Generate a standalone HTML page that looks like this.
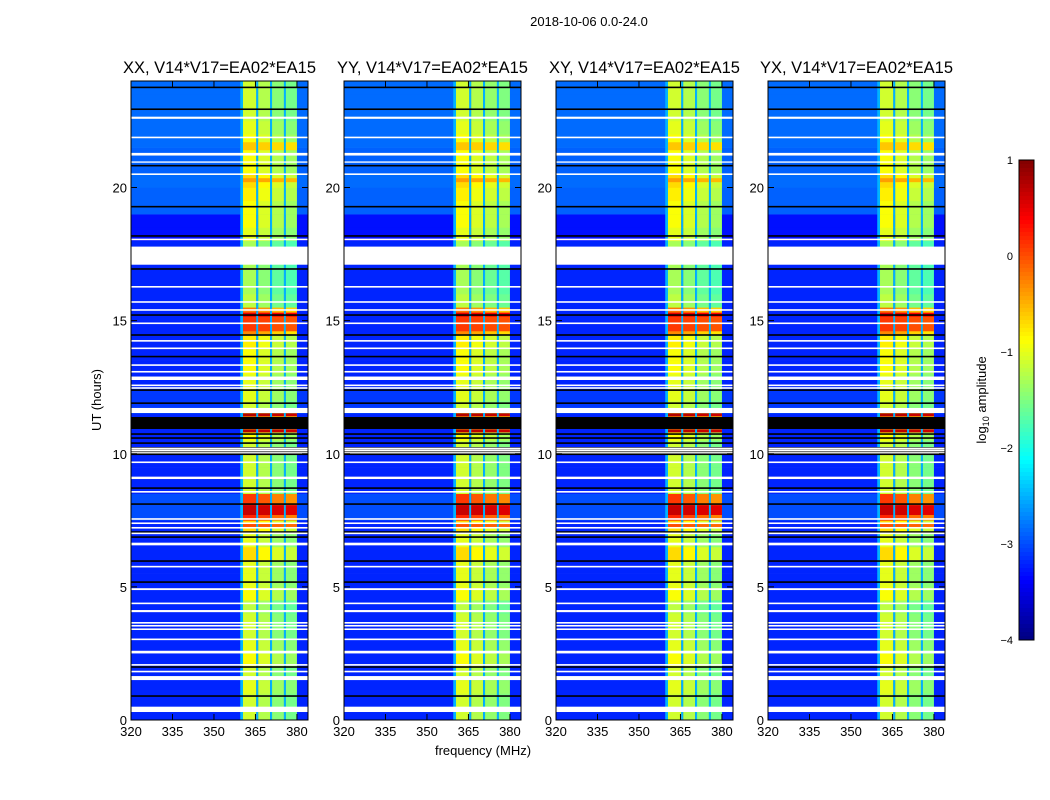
<!DOCTYPE html>
<html><head><meta charset="utf-8"><style>
body{margin:0;background:#fff;}
svg{display:block;font-family:"Liberation Sans",sans-serif;}
</style></head><body>
<svg id="fig" width="1050" height="800" viewBox="0 0 1050 800">
<text x="589" y="26" font-size="13" text-anchor="middle">2018-10-06 0.0-24.0</text>
<text x="483" y="755" font-size="13" text-anchor="middle">frequency (MHz)</text>
<text transform="translate(101,400) rotate(-90)" font-size="13" text-anchor="middle">UT (hours)</text>
<g id="panels"></g>
<g id="cbar"></g>
</svg>
<script>
const titles=["XX, V14*V17=EA02*EA15","YY, V14*V17=EA02*EA15","XY, V14*V17=EA02*EA15","YX, V14*V17=EA02*EA15"];
const panelLeft=[131,344,556,768];
const xTicks=[320,335,350,365,380];
const yTicks=[0,5,10,15,20];
const cbTicks=[1,0,-1,-2,-3,-4];
const subbands=[[360.5,365.3],[366,370.3],[371,375.3],[376,380]];
const dividerLevel=-2.5;
const bandLevel=[-1.1,-1.1,-1.0,-1.1,-0.9,-1.0,-1.1,-1.1,-1.2,-0.9,-1.0,-1.0,-0.7,-1.0,-0.7,0.2,0.1,-1.1,-1.1,-1.1,-1.1,-0.9,-0.5,-1.1,-1.0,-1.0,-0.9,-0.9,-0.8,-0.3,-0.2,-1.2,-1.3,-1.3,-1.3,-1.3,-1.0,-0.9,-0.9,-0.8,-0.7,-0.9,-0.9,-0.9,-1.0,-1.1,-1.1,-1.1];
const bgLevel=[-3.2,-3.2,-3.2,-3.2,-3.2,-3.2,-3.2,-3.2,-3.2,-3.2,-3.2,-3.2,-3.2,-3.2,-3.2,-3.0,-3.0,-3.2,-3.2,-3.2,-3.2,-3.2,-3.2,-3.1,-3.1,-3.2,-3.2,-3.2,-3.2,-3.2,-3.2,-3.2,-3.2,-3.2,-3.2,-3.2,-3.3,-3.3,-2.9,-2.9,-2.85,-2.9,-2.9,-2.85,-2.85,-2.85,-2.85,-2.85];
const subOffsets=[[0,-0.15,-0.35,-0.45],[0,-0.15,-0.3,-0.4],[0,-0.15,-0.35,-0.45],[0,-0.15,-0.35,-0.45]];
const hotRows=[[7.7,8.07,0.65],[7.2,7.4,0.0],[11.4,11.52,0.75],[10.8,10.92,0.75],[14.6,15.2,0.1],[15.15,15.3,0.5],[20.2,20.35,-0.4],[21.4,21.7,-0.6]];
const whiteGaps=[[22.58,22.66],[21.85,21.91],[21.2,21.3],[20.93,20.98],[20.47,20.53],[18.02,18.08],[17.1,17.78],[16.24,16.3],[15.67,15.73],[15.37,15.43],[14.87,14.93],[14.21,14.27],[13.93,13.99],[13.3,13.36],[13.05,13.11],[12.77,12.9],[12.54,12.6],[12.44,12.5],[11.53,11.72],[10.17,10.23],[10.09,10.15],[9.65,9.71],[9.05,9.14],[8.54,8.6],[7.52,7.58],[7.36,7.42],[7.19,7.25],[6.98,7.04],[6.56,6.66],[5.73,5.79],[4.88,4.95],[4.35,4.41],[4.05,4.13],[3.62,3.68],[3.51,3.57],[3.38,3.44],[3.0,3.06],[2.5,2.6],[2.04,2.1],[1.79,1.85],[1.5,1.65],[0.3,0.5]];
const blackRows=[[23.73,23.79],[22.91,22.97],[20.79,20.85],[19.25,19.31],[18.15,18.21],[16.91,16.97],[15.18,15.24],[14.43,14.49],[13.62,13.68],[12.36,12.42],[11.87,11.93],[10.93,11.38],[10.71,10.77],[10.56,10.62],[10.37,10.43],[9.95,10.25],[8.68,8.74],[8.08,8.14],[7.03,7.09],[6.84,6.9],[5.94,6.0],[5.15,5.21],[1.96,2.02],[0.87,0.93]];
const whiteInBlack=[[10.1,10.14],[10.18,10.21],[10.03,10.06]];

const NS="http://www.w3.org/2000/svg";
const fig=document.getElementById('panels');
const yTop=81,yBot=720,W=177;
function ys(h){return yBot-(yBot-yTop)*h/24;}
function jet(v){let t=Math.max(0,Math.min(1,(v+4)/5));const c=x=>Math.round(255*Math.max(0,Math.min(1,1.5-Math.abs(4*t-x))));return `rgb(${c(3)},${c(2)},${c(1)})`;}
function mk(tag,attrs,parent){const e=document.createElementNS(NS,tag);for(const k in attrs)e.setAttribute(k,attrs[k]);parent.appendChild(e);return e;}

panelLeft.forEach((L,p)=>{
  const xs=f=>L+(f-320)*W/64;
  const g=mk('g',{},fig);
  
  
  bgLevel.forEach((v,i)=>{
    const r=mk('rect',{x:L,y:ys(i*0.5+0.5),width:W,height:ys(i*0.5)-ys(i*0.5+0.5)+0.3,fill:jet(v)},g);
    
    
  });
  const ramp=mk('rect',{x:xs(359.5),y:yTop,width:xs(360.5)-xs(359.5),height:yBot-yTop,fill:jet(-2.5)},g);
  
  
  subbands.forEach((sb,s)=>{
    bandLevel.forEach((v,i)=>{
      const r=mk('rect',{x:xs(sb[0]),y:ys(i*0.5+0.5),width:xs(sb[1])-xs(sb[0]),height:ys(i*0.5)-ys(i*0.5+0.5)+0.3,fill:jet(v+subOffsets[p][s])},g);
      
      
    });
    hotRows.forEach(h=>{
      const r=mk('rect',{x:xs(sb[0]),y:ys(h[1]),width:xs(sb[1])-xs(sb[0]),height:ys(h[0])-ys(h[1]),fill:jet(h[2]+subOffsets[p][s]*0.3)},g);
      
      
    });
    if(s<3){
      const d=mk('rect',{x:xs(sb[1]),y:yTop,width:xs(subbands[s+1][0])-xs(sb[1]),height:yBot-yTop,fill:jet(dividerLevel)},g);
      
      
    }
  });
  blackRows.forEach(b=>{
    const y0=ys(b[1]),h=Math.max(1.3,ys(b[0])-ys(b[1]));
    const r=mk('rect',{x:L,y:y0,width:W,height:h,fill:'#000'},g);
    
    
  });
  whiteGaps.concat(whiteInBlack).forEach(b=>{
    const y0=ys(b[1]),h=Math.max(1.3,ys(b[0])-ys(b[1]));
    const r=mk('rect',{x:L,y:y0,width:W,height:h,fill:'#fff'},g);
    
    
  });
  const fr=mk('rect',{x:L,y:yTop,width:W,height:yBot-yTop,fill:'none',stroke:'#000','stroke-width':1},g);
  
  
  const t=mk('text',{x:L+W/2,y:73,'font-size':16.5,'text-anchor':'middle'},g);
  t.textContent=titles[p];
  
  
  xTicks.forEach(f=>{
    const x=xs(f);
    mk('line',{x1:x,x2:x,y1:yBot,y2:yBot-6,stroke:'#000'},g);
    mk('line',{x1:x,x2:x,y1:yTop,y2:yTop+6,stroke:'#000'},g);
    const tl=mk('text',{x:x,y:yBot+16,'font-size':13,'text-anchor':'middle'},g);
    tl.textContent=f;
    
    
  });
  yTicks.forEach(h=>{
    const y=ys(h);
    mk('line',{x1:L,x2:L+6,y1:y,y2:y,stroke:'#000'},g);
    mk('line',{x1:L+W,x2:L+W-6,y1:y,y2:y,stroke:'#000'},g);
    const tl=mk('text',{x:L-4,y:y+5,'font-size':13,'text-anchor':'end'},g);
    tl.textContent=h;
    
    
  });
});

const cb=document.getElementById('cbar');
const cbX=1019,cbW=15,cbTop=160,cbBot=640;
for(let i=0;i<120;i++){
  const v=1-5*i/120;
  const r=mk('rect',{x:cbX,y:cbTop+(cbBot-cbTop)*i/120,width:cbW,height:(cbBot-cbTop)/120+0.5,fill:jet(v-5/240)},cb);
  
  
}
mk('rect',{x:cbX,y:cbTop,width:cbW,height:cbBot-cbTop,fill:'none',stroke:'#000'},cb);
cbTicks.forEach(v=>{
  const y=cbTop+(1-v)/5*(cbBot-cbTop);
  const t=mk('text',{x:1013,y:y+4,'font-size':11,'text-anchor':'end'},cb);
  t.textContent=v<0?'\u2212'+(-v):String(v);
  
  
});
const lab=mk('text',{transform:'translate(986,400) rotate(-90)','font-size':13,'text-anchor':'middle'},cb);
lab.innerHTML='log<tspan font-size="9" dy="3">10</tspan><tspan dy="-3"> amplitude</tspan>';


</script>
</body></html>
